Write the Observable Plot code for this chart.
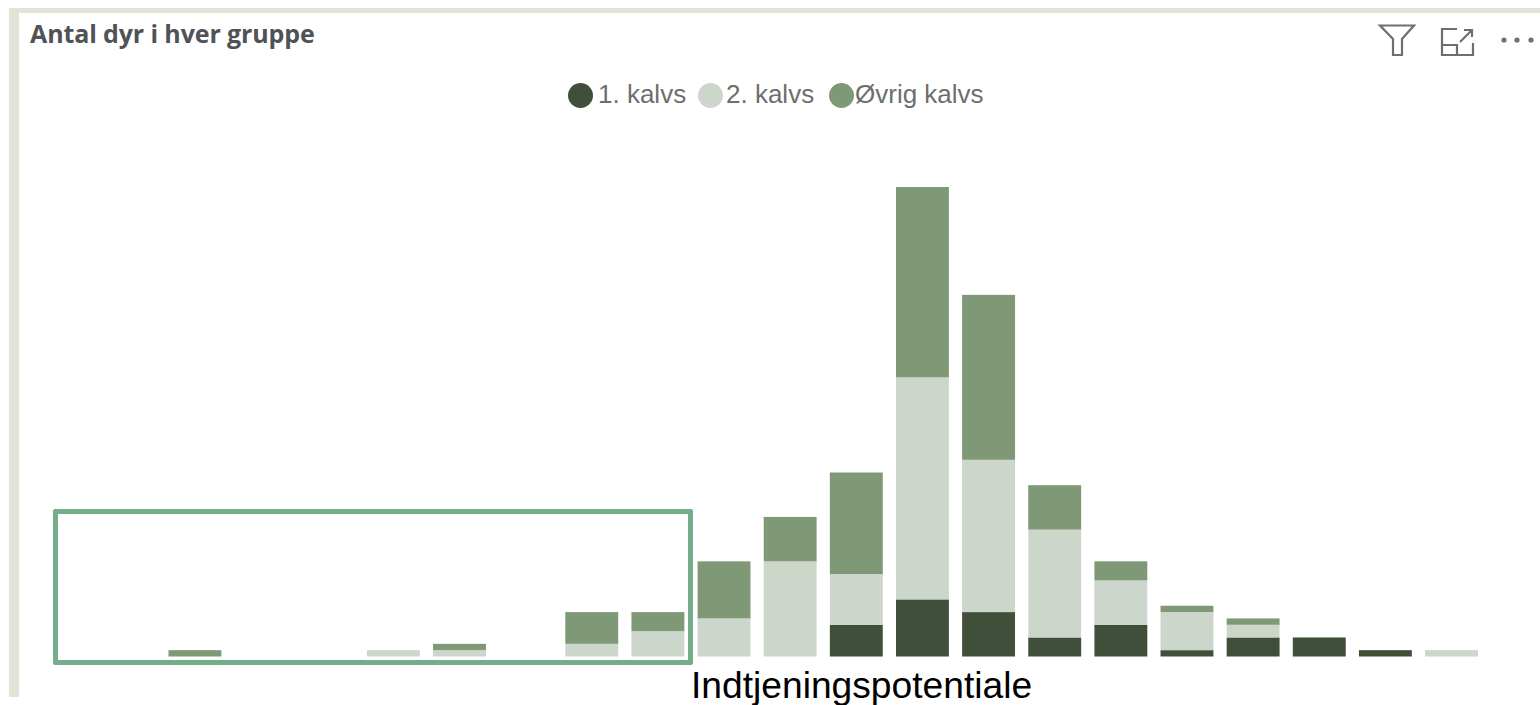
<!DOCTYPE html>
<html lang="da">
<head>
<meta charset="utf-8">
<title>Antal dyr i hver gruppe</title>
<script src="https://cdn.jsdelivr.net/npm/d3@7"></script>
<script src="https://cdn.jsdelivr.net/npm/@observablehq/plot@0.6"></script>
<style>
  html, body { margin: 0; padding: 0; background: #fff; width: 1540px; height: 705px; overflow: hidden; }
  #stage { position: relative; width: 1540px; height: 705px; }
  #chart { position: absolute; left: 0; top: 0; }
  #chart svg { display: block; background: transparent; }
  .frame-top { position: absolute; left: 9px; top: 8px; width: 1531px; height: 5px; background: #e2e4d7; }
  .frame-left { position: absolute; left: 9px; top: 8px; width: 10px; height: 689px; background: #e2e4d7; }
  .title { position: absolute; left: 30px; top: 16px; font: 700 25px/34px "Open Sans", sans-serif; color: #4f5257; white-space: nowrap; letter-spacing: -0.12px; }
  .legend-dot { position: absolute; width: 25px; height: 25px; border-radius: 50%; top: 83px; }
  .legend-text { position: absolute; top: 78px; font: 26px/32px "Liberation Sans", sans-serif; color: #6b6f6d; white-space: nowrap; }
  .xlabel { position: absolute; left: 691px; top: 665px; font: 37.2px/40px "Liberation Sans", sans-serif; color: #000; white-space: nowrap; }
  .box { position: absolute; left: 53px; top: 509px; width: 640px; height: 156px; box-sizing: border-box; border: 5px solid #74ad8a; border-radius: 2px; }
  .icons { position: absolute; left: 1370px; top: 18px; }
</style>
</head>
<body>
<div id="stage">
  <div class="frame-top"></div>
  <div class="frame-left"></div>
  <div id="chart"></div>
  <div class="box"></div>
  <div class="title">Antal dyr i hver gruppe</div>
  <div id="legend"></div>
  <svg class="icons" width="170" height="42" viewBox="0 0 170 42" fill="none" stroke="#6f6f6f" stroke-width="2.2">
    <path d="M10 7.5 H44 L32 21 V37 H23 V21 Z"/>
    <path d="M87 11 H72 V37 H103 V25 M72 27 H87 V37 M90 24 L102 12 M94 12 H102 V19"/>
    <g fill="#6f6f6f" stroke="none">
      <circle cx="134" cy="22" r="2.6"/><circle cx="147" cy="22" r="2.6"/><circle cx="161" cy="22" r="2.6"/>
    </g>
  </svg>
  <div class="xlabel">Indtjeningspotentiale</div>
</div>
<script>
const categories = d3.range(22).map(i => `G${i + 1}`);
const seriesNames = ["1. kalvs", "2. kalvs", "Øvrig kalvs"];
const seriesColors = ["#404f3a", "#ccd6ca", "#7f9976"];
const kalvs1 = [0, 0, 0, 0, 0, 0, 0, 0, 0, 0, 0, 0, 5, 9, 7, 3, 5, 1, 3, 3, 1, 0];
const kalvs2 = [0, 0, 0, 0, 0, 1, 1, 0, 2, 4, 6, 15, 8, 35, 24, 17, 7, 6, 2, 0, 0, 1];
const ovrig  = [0, 0, 1, 0, 0, 0, 1, 0, 5, 3, 9, 7, 16, 30, 26, 7, 3, 1, 1, 0, 0, 0];

const rows = [];
[kalvs1, kalvs2, ovrig].forEach((values, s) => {
  values.forEach((v, i) => { if (v > 0) rows.push({category: categories[i], series: seriesNames[s], value: v}); });
});

const plot = Plot.plot({
  width: 1540,
  height: 705,
  marginLeft: 29.6,
  marginRight: 55.4,
  marginTop: 187,
  marginBottom: 48.5,
  style: {background: "transparent"},
  x: {domain: categories, paddingInner: 0.2, paddingOuter: 0.1, round: false, axis: null},
  y: {domain: [0, 74], axis: null},
  color: {domain: seriesNames, range: seriesColors},
  marks: [
    Plot.barY(rows, {x: "category", y: "value", fill: "series", order: seriesNames})
  ]
});
document.getElementById("chart").appendChild(plot);

const legendDots = [568, 698, 829];
const legendTexts = [598, 726, 855];
const legend = document.getElementById("legend");
seriesNames.forEach((name, i) => {
  const dot = document.createElement("div");
  dot.className = "legend-dot";
  dot.style.left = legendDots[i] + "px";
  dot.style.background = seriesColors[i];
  const text = document.createElement("div");
  text.className = "legend-text";
  text.style.left = legendTexts[i] + "px";
  text.textContent = name;
  legend.append(dot, text);
});
</script>
</body>
</html>
